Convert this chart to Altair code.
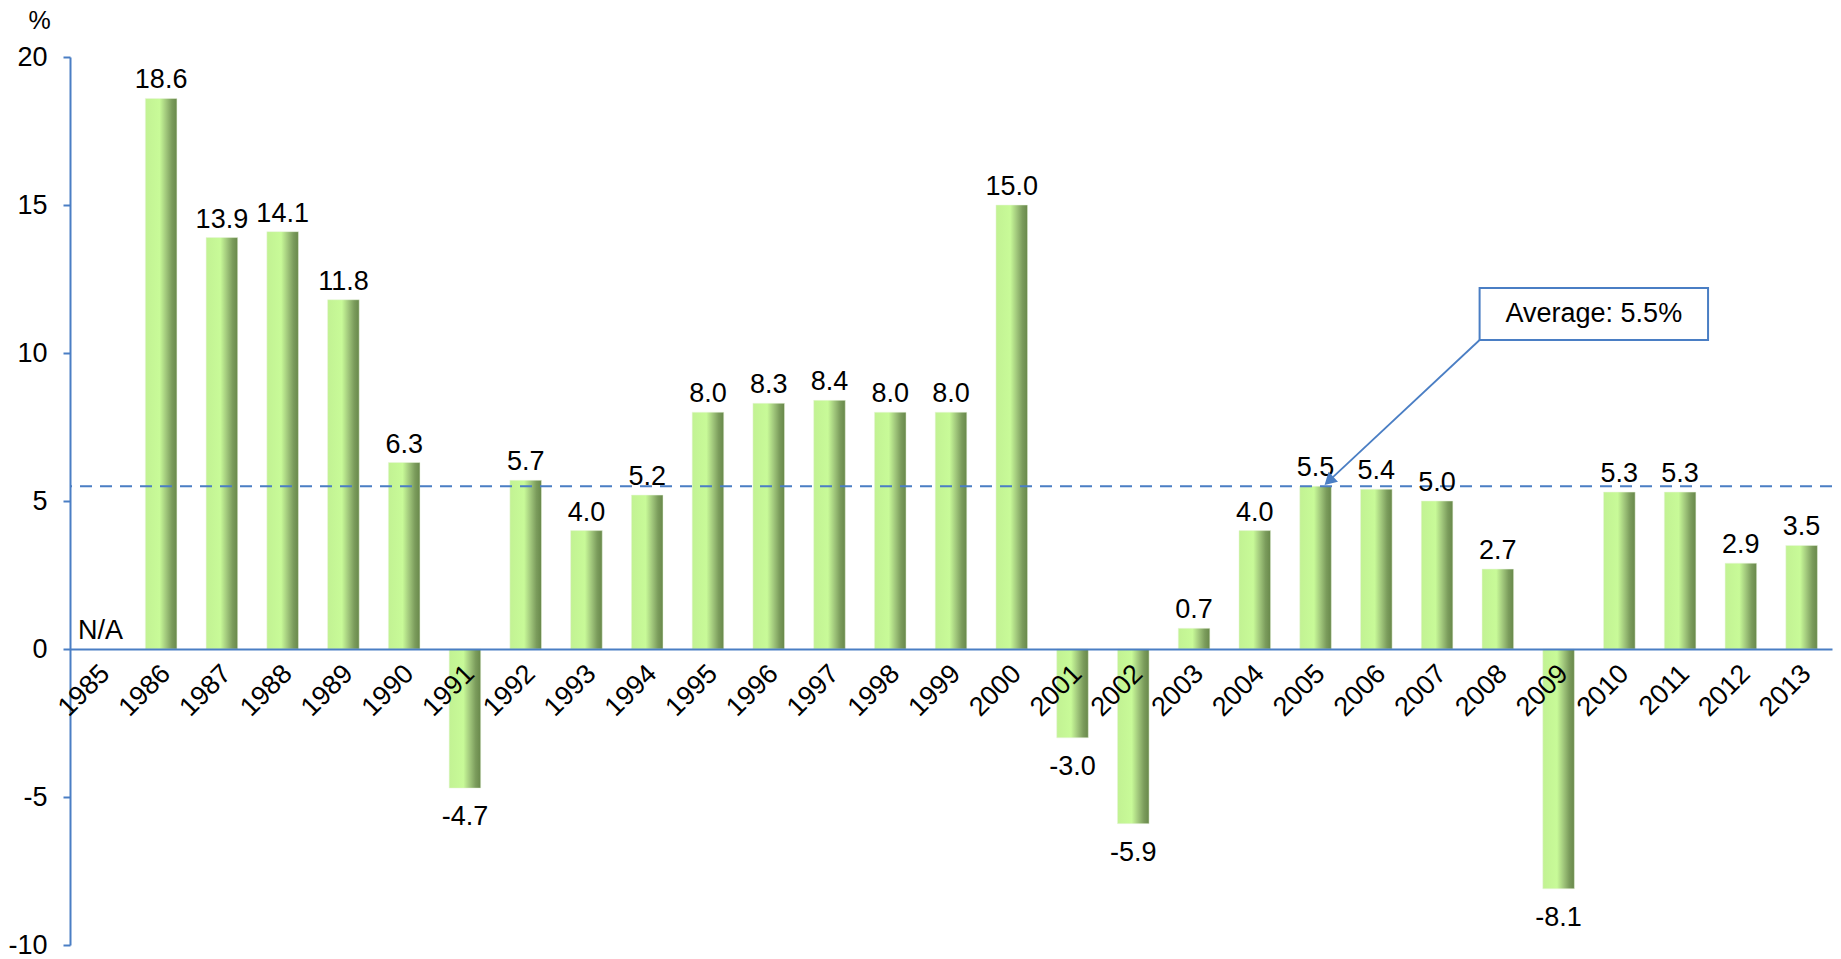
import altair as alt
import pandas as pd

# Annual growth rates, 1985-2013 (1985 not available)
years = [str(y) for y in range(1985, 2014)]
growth = [None, 18.6, 13.9, 14.1, 11.8, 6.3, -4.7, 5.7, 4.0, 5.2, 8.0, 8.3, 8.4, 8.0, 8.0,
          15.0, -3.0, -5.9, 0.7, 4.0, 5.5, 5.4, 5.0, 2.7, -8.1, 5.3, 5.3, 2.9, 3.5]
average = 5.5

# Callout position on a 0..29 slot scale running along the x axis
callout_box_x = [23.2, 26.96]
callout_box_y = [10.44, 12.2]
callout_text_pos = [25.08, 11.32]
arrow_start = [23.2, 10.44]
arrow_head = [20.72, 5.68]

FONT = "Liberation Sans"
FS = 27
BLUE = "#4a7ec4"
W, H = 1762, 888
Y_MIN, Y_MAX = -10, 20

df = pd.DataFrame({"year": years, "value": growth})
df["label"] = df["value"].map(lambda v: "N/A" if pd.isna(v) else f"{v:.1f}")
df["ypos"] = df["value"].fillna(0)

x_band = alt.X(
    "year:N",
    sort=years,
    scale=alt.Scale(paddingInner=0.48, paddingOuter=0.24),
    axis=alt.Axis(
        title=None, labelAngle=-45, labelAlign="right", labelBaseline="top",
        labelFontSize=FS, labelFont=FONT, labelColor="black", labelPadding=11,
        labelOffset=-4, ticks=False, domainColor=BLUE, domainWidth=2, zindex=1,
        offset=-H * (0 - Y_MIN) / (Y_MAX - Y_MIN),
    ),
)
y_scale = alt.Scale(domain=[Y_MIN, Y_MAX], nice=False, zero=False)
y_enc = alt.Y(
    "value:Q", scale=y_scale,
    axis=alt.Axis(
        values=list(range(-10, 21, 5)), labelExpr="toString(datum.value)",
        grid=False, domainColor=BLUE, domainWidth=2,
        tickColor=BLUE, tickSize=7, tickWidth=2, labelFontSize=FS, labelFont=FONT,
        labelColor="black", labelPadding=16,
        title="%", titleAngle=0, titleX=-31, titleY=-37, titleAlign="center",
        titleBaseline="middle", titleFontSize=FS - 2, titleFont=FONT,
        titleFontWeight="normal", titleColor="black",
    ),
)

# Light-to-dark horizontal shading on every bar
bar_fill = alt.LinearGradient(
    gradient="linear", x1=0, x2=1, y1=0, y2=0,
    stops=[
        alt.GradientStop(color="#c2f293", offset=0),
        alt.GradientStop(color="#c8fa98", offset=0.45),
        alt.GradientStop(color="#a0c67b", offset=0.66),
        alt.GradientStop(color="#7b9c5c", offset=0.84),
        alt.GradientStop(color="#68884a", offset=1),
    ],
)

base = alt.Chart(df)
bars = base.transform_filter("isValid(datum.value)").mark_bar(
    color=bar_fill, stroke="#e8f5dc", strokeWidth=0.5
).encode(x=x_band, y=y_enc, y2=alt.datum(0))

pos_labels = base.transform_filter("!(datum.value < 0)").mark_text(
    font=FONT, fontSize=FS, color="black", baseline="alphabetic", dy=-10
).encode(x=x_band, y=alt.Y("ypos:Q", scale=y_scale), text="label:N")

neg_labels = base.transform_filter("datum.value < 0").mark_text(
    font=FONT, fontSize=FS, color="black", baseline="top", dy=16
).encode(x=x_band, y=alt.Y("ypos:Q", scale=y_scale), text="label:N")

avg_rule = alt.Chart(pd.DataFrame({"avg": [average]})).mark_rule(
    color=BLUE, strokeWidth=2, strokeDash=[12, 8]
).encode(y=alt.Y("avg:Q", scale=y_scale))

band_layer = alt.layer(bars, avg_rule, pos_labels, neg_labels)

# Callout: box, text and arrow on a continuous slot scale
slot_scale = alt.Scale(domain=[0, len(years)], nice=False, zero=False)
box_df = pd.DataFrame({"x": [callout_box_x[0]], "x2": [callout_box_x[1]],
                       "y": [callout_box_y[1]], "y2": [callout_box_y[0]]})
box = alt.Chart(box_df).mark_rect(fill="white", stroke=BLUE, strokeWidth=2).encode(
    x=alt.X("x:Q", scale=slot_scale, axis=None), x2="x2:Q",
    y=alt.Y("y:Q", scale=y_scale), y2="y2:Q",
)
text_df = pd.DataFrame({"x": [callout_text_pos[0]], "y": [callout_text_pos[1]],
                        "t": [f"Average: {average}%"]})
box_text = alt.Chart(text_df).mark_text(
    font=FONT, fontSize=FS, color="black", align="center", baseline="middle"
).encode(x=alt.X("x:Q", scale=slot_scale, axis=None),
         y=alt.Y("y:Q", scale=y_scale), text="t:N")

arrow_df = pd.DataFrame({"x": [arrow_start[0], arrow_head[0]],
                         "y": [arrow_start[1], arrow_head[1]], "o": [0, 1]})
arrow_line = alt.Chart(arrow_df).mark_line(color=BLUE, strokeWidth=1.8).encode(
    x=alt.X("x:Q", scale=slot_scale, axis=None),
    y=alt.Y("y:Q", scale=y_scale), order="o:Q",
)
head_df = pd.DataFrame({"x": [arrow_head[0]], "y": [arrow_head[1]]})
arrow_tip = alt.Chart(head_df).mark_point(
    shape="triangle-up", filled=True, color=BLUE, size=190, angle=227, opacity=1
).encode(x=alt.X("x:Q", scale=slot_scale, axis=None),
         y=alt.Y("y:Q", scale=y_scale))

callout = alt.layer(arrow_line, arrow_tip, box, box_text)

chart = alt.layer(band_layer, callout).resolve_scale(x="independent").properties(
    width=W, height=H,
    padding={"left": 70, "top": 57, "right": 9, "bottom": 14},
    autosize=alt.AutoSizeParams(type="none"),
    background="white",
).configure_view(stroke=None)

chart.save("out.html", embed_options={"renderer": "svg", "actions": False})
